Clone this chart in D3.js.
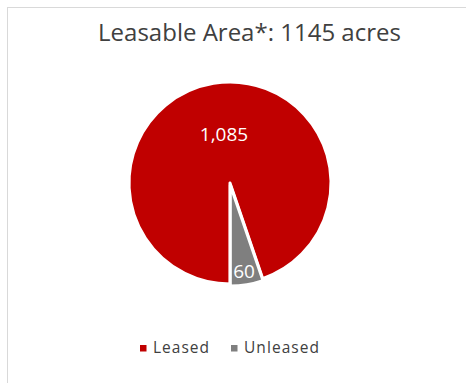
<!DOCTYPE html>
<html>
<head>
<meta charset="utf-8">
<script src="https://cdn.jsdelivr.net/npm/d3@7"></script>
<style>
  html, body { margin: 0; padding: 0; background: #fff; }
  svg { display: block; }
  text { font-family: "Open Sans", "Noto Sans", sans-serif; }
</style>
</head>
<body>
<div id="chart"></div>
<script>
// Leasable area split, in acres
const categories = ["Leased", "Unleased"];
const values = [1085, 60];
const labels = ["1,085", "60"];
const colors = ["#C00000", "#7F7F7F"];
const titleText = "Leasable Area*: 1145 acres";

const W = 466, H = 383;
const svg = d3.select("#chart").append("svg")
  .attr("width", W).attr("height", H);

// chart frame
svg.append("rect")
  .attr("x", 7.5).attr("y", 7.5)
  .attr("width", W + 10).attr("height", H + 10)
  .attr("fill", "#fff")
  .attr("stroke", "#D9D9D9").attr("stroke-width", 1);

// widen a text run with letter spacing until it reaches the given width
function spreadTo(sel, width) {
  const n = sel.text().length;
  const w = sel.node().getComputedTextLength();
  if (n > 1 && w < width) sel.attr("letter-spacing", (width - w) / (n - 1));
}

// title
const title = svg.append("text")
  .attr("x", 249.5).attr("y", 40.5)
  .attr("text-anchor", "middle")
  .attr("fill", "#404040")
  .attr("font-size", 24)
  .text(titleText);
const tw = title.node().getComputedTextLength();
title.attr("font-size", 24 * 303 / tw);

// pie, first slice starting at 6 o'clock
const cx = 230, cy = 183, r = 101;
const pie = d3.pie().sort(null)
  .startAngle(Math.PI).endAngle(3 * Math.PI)
  .value(d => d);
const arcs = pie(values);
const arc = d3.arc().innerRadius(0).outerRadius(r);

const g = svg.append("g").attr("transform", `translate(${cx},${cy})`);

const explode = [0, 2];
g.selectAll("path.slice")
  .data(arcs)
  .join("path")
  .attr("class", "slice")
  .attr("transform", (d, i) => {
    const a = (d.startAngle + d.endAngle) / 2;
    return `translate(${Math.sin(a) * explode[i]},${-Math.cos(a) * explode[i]})`;
  })
  .attr("d", arc)
  .attr("fill", (d, i) => colors[i])
  .attr("stroke", "#fff")
  .attr("stroke-width", 3)
  .attr("stroke-linejoin", "round");

// data labels
const labelPos = [[-6, -42], [14, 95]];
g.selectAll("text.lbl")
  .data(arcs)
  .join("text")
  .attr("class", "lbl")
  .attr("x", (d, i) => labelPos[i][0])
  .attr("y", (d, i) => labelPos[i][1])
  .attr("text-anchor", "middle")
  .attr("fill", "#fff")
  .attr("font-size", 19)
  .text((d, i) => labels[i]);

// legend
const legendItems = [
  { x: 140, tx: 153, w: 56 },
  { x: 231, tx: 244, w: 75 }
];
const lg = svg.append("g");
categories.forEach((c, i) => {
  lg.append("rect")
    .attr("x", legendItems[i].x).attr("y", 345)
    .attr("width", 6.5).attr("height", 6.5)
    .attr("fill", colors[i]);
  const t = lg.append("text")
    .attr("x", legendItems[i].tx).attr("y", 353)
    .attr("fill", "#404040")
    .attr("font-size", 15.5)
    .text(c);
  spreadTo(t, legendItems[i].w);
});
</script>
</body>
</html>
